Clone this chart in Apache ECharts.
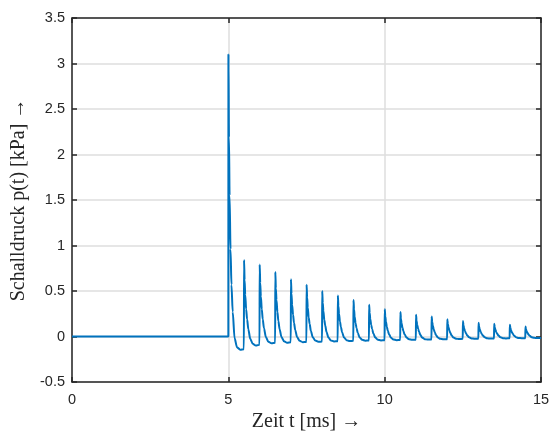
<!DOCTYPE html>
<html>
<head>
<meta charset="utf-8">
<script src="https://cdn.jsdelivr.net/npm/echarts@6/dist/echarts.min.js"></script>
<style>
html,body{margin:0;padding:0;background:#fff;}
#chart{width:551px;height:432px;}
</style>
</head>
<body>
<div id="chart"></div>
<script>
// Time in ms
var timeMs = [
  0, 5.0,
  5.003, 5.02, 5.04, 5.07, 5.10, 5.14, 5.20, 5.28, 5.38, 5.497,
  5.503, 5.52, 5.54, 5.57, 5.60, 5.64, 5.70, 5.78, 5.88, 5.997,
  6.003, 6.02, 6.04, 6.07, 6.10, 6.14, 6.20, 6.28, 6.38, 6.497,
  6.503, 6.52, 6.54, 6.57, 6.60, 6.64, 6.70, 6.78, 6.88, 6.997,
  7.003, 7.02, 7.04, 7.07, 7.10, 7.14, 7.20, 7.28, 7.38, 7.497,
  7.503, 7.52, 7.54, 7.57, 7.60, 7.64, 7.70, 7.78, 7.88, 7.997,
  8.003, 8.02, 8.04, 8.07, 8.10, 8.14, 8.20, 8.28, 8.38, 8.497,
  8.503, 8.52, 8.54, 8.57, 8.60, 8.64, 8.70, 8.78, 8.88, 8.997,
  9.003, 9.02, 9.04, 9.07, 9.10, 9.14, 9.20, 9.28, 9.38, 9.497,
  9.503, 9.52, 9.54, 9.57, 9.60, 9.64, 9.70, 9.78, 9.88, 9.997,
  10.003, 10.02, 10.04, 10.07, 10.10, 10.14, 10.20, 10.28, 10.38, 10.497,
  10.503, 10.52, 10.54, 10.57, 10.60, 10.64, 10.70, 10.78, 10.88, 10.997,
  11.003, 11.02, 11.04, 11.07, 11.10, 11.14, 11.20, 11.28, 11.38, 11.497,
  11.503, 11.52, 11.54, 11.57, 11.60, 11.64, 11.70, 11.78, 11.88, 11.997,
  12.003, 12.02, 12.04, 12.07, 12.10, 12.14, 12.20, 12.28, 12.38, 12.497,
  12.503, 12.52, 12.54, 12.57, 12.60, 12.64, 12.70, 12.78, 12.88, 12.997,
  13.003, 13.02, 13.04, 13.07, 13.10, 13.14, 13.20, 13.28, 13.38, 13.497,
  13.503, 13.52, 13.54, 13.57, 13.60, 13.64, 13.70, 13.78, 13.88, 13.997,
  14.003, 14.02, 14.04, 14.07, 14.10, 14.14, 14.20, 14.28, 14.38, 14.497,
  14.503, 14.52, 14.54, 14.57, 14.60, 14.64, 14.70, 14.78, 14.88, 15.0
];
// Sound pressure in kPa
var pressureKPa = [
  0, 0,
  3.10, 2.19, 1.55, 0.96, 0.57, 0.27, -0.02, -0.12, -0.145, -0.14,
  0.84, 0.62, 0.46, 0.30, 0.19, 0.08, -0.025, -0.08, -0.10, -0.09,
  0.79, 0.59, 0.44, 0.30, 0.19, 0.09, -0.006, -0.058, -0.075, -0.07,
  0.71, 0.53, 0.40, 0.27, 0.17, 0.08, -0.006, -0.052, -0.068, -0.064,
  0.63, 0.47, 0.35, 0.24, 0.15, 0.07, -0.007, -0.048, -0.062, -0.06,
  0.57, 0.43, 0.32, 0.21, 0.14, 0.06, -0.008, -0.045, -0.058, -0.056,
  0.50, 0.37, 0.28, 0.18, 0.12, 0.05, -0.01, -0.043, -0.054, -0.052,
  0.45, 0.335, 0.25, 0.165, 0.105, 0.045, -0.01, -0.04, -0.05, -0.048,
  0.40, 0.30, 0.22, 0.146, 0.092, 0.039, -0.01, -0.037, -0.046, -0.044,
  0.35, 0.26, 0.193, 0.126, 0.079, 0.032, -0.012, -0.035, -0.043, -0.041,
  0.30, 0.222, 0.164, 0.106, 0.065, 0.025, -0.013, -0.033, -0.04, -0.038,
  0.27, 0.199, 0.147, 0.095, 0.058, 0.021, -0.012, -0.031, -0.037, -0.035,
  0.24, 0.177, 0.13, 0.084, 0.051, 0.018, -0.012, -0.029, -0.034, -0.032,
  0.22, 0.162, 0.12, 0.077, 0.047, 0.017, -0.011, -0.026, -0.031, -0.029,
  0.19, 0.14, 0.103, 0.066, 0.04, 0.013, -0.011, -0.024, -0.028, -0.026,
  0.17, 0.125, 0.092, 0.059, 0.035, 0.012, -0.009, -0.021, -0.025, -0.024,
  0.15, 0.11, 0.081, 0.051, 0.031, 0.01, -0.009, -0.02, -0.023, -0.022,
  0.14, 0.103, 0.076, 0.048, 0.029, 0.01, -0.008, -0.018, -0.021, -0.02,
  0.13, 0.096, 0.07, 0.045, 0.027, 0.009, -0.007, -0.016, -0.019, -0.018,
  0.11, 0.081, 0.059, 0.038, 0.022, 0.007, -0.007, -0.014, -0.017, -0.016
];
var xTicks = [0, 5, 10, 15];
var yTicks = [-0.5, 0, 0.5, 1, 1.5, 2, 2.5, 3, 3.5];
var xLabel = 'Zeit t [ms] →';
var yLabel = 'Schalldruck p(t) [kPa] →';

var seriesData = timeMs.map(function (t, i) { return [t, pressureKPa[i]]; });

var axisColor = '#262626';
var gridColor = '#dedede';
var tickFont = "'Liberation Sans', Arial, Helvetica, sans-serif";
var nameFont = "'Liberation Serif', 'DejaVu Serif', serif";

var chart = echarts.init(document.getElementById('chart'), null, {renderer: 'canvas'});
chart.setOption({
  animation: false,
  backgroundColor: '#ffffff',
  grid: {left: 72, right: 10, top: 18, bottom: 50, containLabel: false, outerBoundsMode: 'none'},
  xAxis: [{
    type: 'value',
    min: xTicks[0], max: xTicks[xTicks.length - 1], interval: 5,
    position: 'bottom',
    name: xLabel, nameLocation: 'middle', nameGap: 28,
    nameTextStyle: {fontFamily: nameFont, fontSize: 20, color: axisColor},
    axisLine: {show: true, onZero: false, lineStyle: {color: axisColor, width: 1.5}},
    axisTick: {show: true, inside: true, length: 5, lineStyle: {color: axisColor, width: 1.5}},
    axisLabel: {fontFamily: tickFont, fontSize: 14.5, color: axisColor, margin: 10},
    splitLine: {show: true, lineStyle: {color: gridColor, width: 1.5}}
  }, {
    type: 'value',
    min: xTicks[0], max: xTicks[xTicks.length - 1], interval: 5,
    position: 'top',
    axisLine: {show: true, onZero: false, lineStyle: {color: axisColor, width: 1.5}},
    axisTick: {show: true, inside: true, length: 5, lineStyle: {color: axisColor, width: 1.5}},
    axisLabel: {show: false},
    splitLine: {show: false}
  }],
  yAxis: [{
    type: 'value',
    min: yTicks[0], max: yTicks[yTicks.length - 1], interval: 0.5,
    position: 'left',
    name: yLabel, nameLocation: 'middle', nameGap: 42,
    nameTextStyle: {fontFamily: nameFont, fontSize: 20, color: axisColor},
    axisLine: {show: true, onZero: false, lineStyle: {color: axisColor, width: 1.5}},
    axisTick: {show: true, inside: true, length: 5, lineStyle: {color: axisColor, width: 1.5}},
    axisLabel: {fontFamily: tickFont, fontSize: 14.5, color: axisColor, margin: 7},
    splitLine: {show: true, lineStyle: {color: gridColor, width: 1.5}}
  }, {
    type: 'value',
    min: yTicks[0], max: yTicks[yTicks.length - 1], interval: 0.5,
    position: 'right',
    axisLine: {show: true, onZero: false, lineStyle: {color: axisColor, width: 1.5}},
    axisTick: {show: true, inside: true, length: 5, lineStyle: {color: axisColor, width: 1.5}},
    axisLabel: {show: false},
    splitLine: {show: false}
  }],
  series: [{
    type: 'line',
    data: seriesData,
    xAxisIndex: 0, yAxisIndex: 0,
    showSymbol: false,
    smooth: 0.3,
    smoothMonotone: 'x',
    lineStyle: {color: '#0072BD', width: 2},
    itemStyle: {color: '#0072BD'},
    z: 3
  }]
});
</script>
</body>
</html>
